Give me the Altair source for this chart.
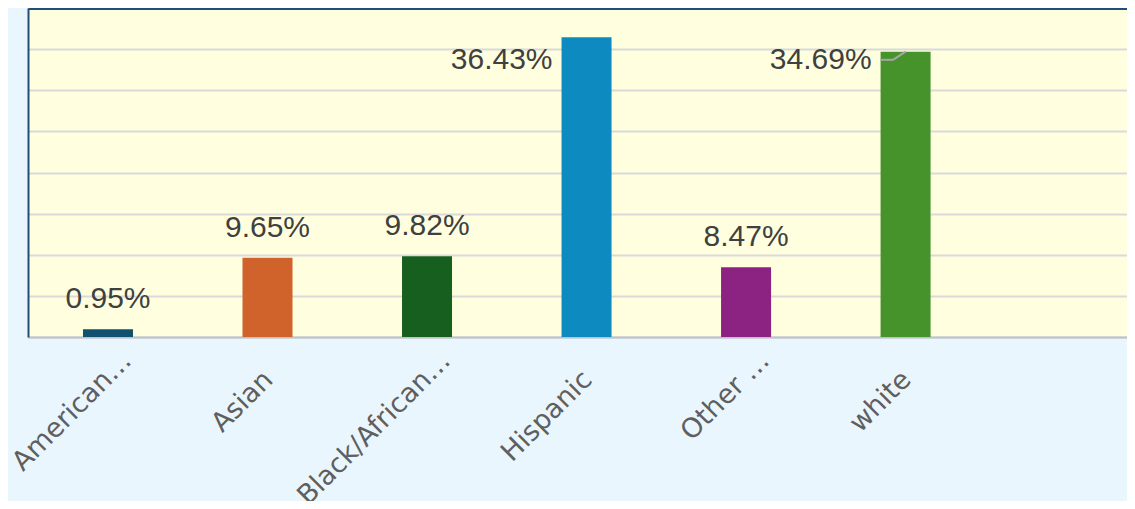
import altair as alt
import pandas as pd

categories = ["American…", "Asian", "Black/African…", "Hispanic", "Other …", "white"]
values = [0.95, 9.65, 9.82, 36.43, 8.47, 34.69]
labels = ["0.95%", "9.65%", "9.82%", "36.43%", "8.47%", "34.69%"]
colors = ["#11506e", "#d0632b", "#175f1f", "#0d8bc0", "#8c2382", "#45932a"]

df = pd.DataFrame({"cat": categories, "pct": values, "label": labels})

FONT = "Liberation Sans"
AXFONT = "DejaVu Sans"
TRUNC = "indexof(datum.label, '…') >= 0"

xscale = alt.Scale(domain=categories, paddingInner=0.6865, paddingOuter=0.788, align=0.2187)
yscale = alt.Scale(domain=[0, 40], nice=False)

x_enc = alt.X("cat:N", sort=categories, scale=xscale, title=None,
              axis=alt.Axis(labelAngle=-45, labelAlign="right", labelBaseline="top",
                            labelFont=AXFONT, labelFontSize=27, labelColor="#5f5f5f",
                            labelPadding=alt.condition(TRUNC, alt.value(10), alt.value(29)),
                            labelOffset=alt.condition(TRUNC, alt.value(10), alt.value(-8)),
                            ticks=False, domainColor="#b9c3cc",
                            domainWidth=2, labelLimit=400))
y_enc = alt.Y("pct:Q", scale=yscale, title=None,
              axis=alt.Axis(labels=False, ticks=False, values=[0, 5, 10, 15, 20, 25, 30, 35, 40],
                            domainColor="#1f4e79", domainWidth=2,
                            gridColor=alt.condition("datum.value == 40", alt.value("#1f4e79"), alt.value("#d9d9d9")),
                            gridWidth=alt.condition("datum.value == 40", alt.value(3), alt.value(2))))

bars = alt.Chart(df).mark_bar().encode(
    x=x_enc, y=y_enc,
    color=alt.Color("cat:N", scale=alt.Scale(domain=categories, range=colors), legend=None),
)

top_labels = alt.Chart(df).transform_filter("datum.pct <= 30").mark_text(
    font=FONT, fontSize=30, color="#404040", baseline="alphabetic", dy=-21
).encode(x=alt.X("cat:N", sort=categories, scale=xscale), y=alt.Y("pct:Q", scale=yscale), text="label:N")

side = alt.Chart(df).transform_filter("datum.pct > 30").transform_calculate(ly="33.7")
side_labels = side.mark_text(
    font=FONT, fontSize=30, color="#404040", align="right", baseline="middle", dx=-9
).encode(x=alt.X("cat:N", sort=categories, scale=xscale, bandPosition=0),
         y=alt.Y("ly:Q", scale=yscale), text="label:N")

leader = side.transform_filter("datum.cat == 'white'")
lead_h = leader.mark_rule(color="#a6a6a6", strokeWidth=2).encode(
    x=alt.X("cat:N", sort=categories, scale=xscale, bandPosition=0),
    x2=alt.X2("cat:N", bandPosition=0.25),
    y=alt.Y("ly:Q", scale=yscale))
lead_d = leader.mark_rule(color="#a6a6a6", strokeWidth=2).encode(
    x=alt.X("cat:N", sort=categories, scale=xscale, bandPosition=0.25),
    x2=alt.X2("cat:N", bandPosition=0.5),
    y=alt.Y("ly:Q", scale=yscale), y2=alt.Y2("pct:Q"))

chart = alt.layer(bars, top_labels, side_labels, lead_h, lead_d).properties(
    width=1099, height=329,
    background="#eaf6fe",
    padding={"left": 20, "top": 0, "right": 0, "bottom": 164},
    autosize=alt.AutoSizeParams(type="none"),
).configure_view(fill="#ffffdf", stroke=None)

chart.save("out.html", embed_options={"renderer": "svg", "actions": False})
